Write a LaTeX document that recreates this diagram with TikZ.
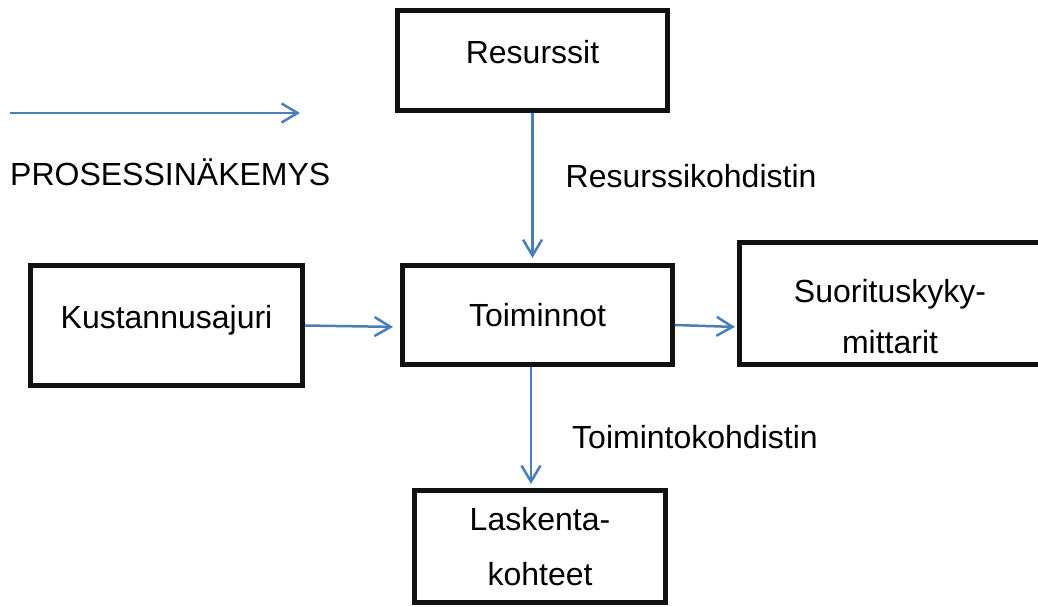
\documentclass[tikz,border=0pt]{standalone}
\usepackage{fontspec}
\setmainfont{Liberation Sans}
\usetikzlibrary{arrows.meta}
\definecolor{linkblue}{HTML}{4A7EBB}
\definecolor{boxline}{HTML}{111111}

\begin{document}
\begin{tikzpicture}[x=1pt, y=-1pt, font=\fontsize{32}{53}\selectfont,
  box/.style={draw=boxline, line width=5pt, inner sep=0pt, align=center},
  lbl/.style={anchor=base west, inner sep=0pt},
  flow/.style={draw=linkblue, line width=2.5pt, -{Straight Barb[length=16pt,width=19pt]}}]
\useasboundingbox (0,0) rectangle (1038,606);
% legend
\coordinate (legA) at (10,113);
\coordinate (legB) at (300,113);
\draw[flow] (legA) -- (legB);
\node[lbl] (prolbl) at (10,185) {PROSESSINÄKEMYS};
% boxes
\node[box, minimum width=270pt, minimum height=100pt, text height=23pt, text depth=18pt] (res) at (532.5,60.5) {Resurssit};
\node[box, minimum width=270pt, minimum height=99pt] (toim) at (537.5,315) {Toiminnot};
\node[box, minimum width=272pt, minimum height=120pt, text height=23pt, text depth=18pt] (kust) at (166.5,325.5) {Kustannusajuri};
\node[box, minimum width=301pt, minimum height=122pt, font=\fontsize{32}{51}\selectfont, text height=99pt, text depth=0pt] (suor) at (890,303.5) {Suorituskyky-\\mittarit};
\node[box, minimum width=251pt, minimum height=112pt, font=\fontsize{32}{55}\selectfont] (lask) at (540,546.5) {Laskenta-\\kohteet};
% connectors
\draw[flow, shorten >=5pt] (res) -- (res |- toim.north);
\node[lbl] (reslbl) at (565.5,187) {Resurssikohdistin};
\draw[flow, shorten >=7pt] (kust.east) -- ([yshift=-12pt]toim.west);
\draw[flow, shorten >=2pt] ([yshift=-10pt]toim.east) -- ([yshift=-23.5pt]suor.west);
\draw[flow, shorten >=4pt] ([xshift=-6.5pt]toim.south) -- ([xshift=-6.5pt]toim.south |- lask.north);
\node[lbl] (toimlbl) at (572,448) {Toimintokohdistin};
\end{tikzpicture}
\end{document}
